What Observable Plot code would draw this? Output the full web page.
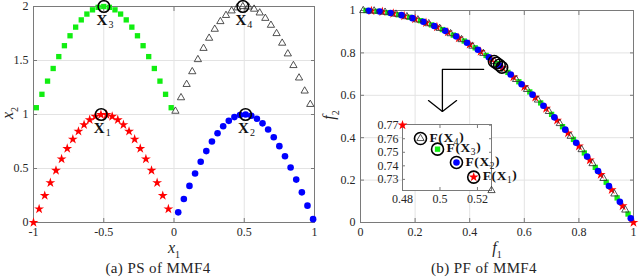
<!DOCTYPE html>
<html><head><meta charset="utf-8">
<script src="https://cdn.jsdelivr.net/npm/d3@7"></script>
<script src="https://cdn.jsdelivr.net/npm/@observablehq/plot@0.6"></script>
<style>
body{margin:0;background:#fff;}
#wrap{position:relative;width:640px;height:278px;overflow:hidden;font-family:"Liberation Serif",serif;color:#262626;}
.cap{position:absolute;font-size:15px;letter-spacing:0.4px;white-space:nowrap;}
.alab{position:absolute;font-size:16px;font-style:italic;white-space:nowrap;line-height:1;}
.alab sub{font-style:normal;font-size:10px;}
</style></head>
<body><div id="wrap"></div>
<script>
// ---------- (a) PS of MMF4 : decision space ----------
const starX1 = [-1,-0.96,-0.92,-0.88,-0.84,-0.80,-0.76,-0.72,-0.68,-0.64,-0.60,-0.56,-0.52,-0.48,-0.44,-0.40,-0.36,-0.32,-0.28,-0.24,-0.20,-0.16,-0.12,-0.08,-0.04];
const starX2 = [0,0.125,0.249,0.368,0.482,0.588,0.685,0.771,0.844,0.905,0.951,0.982,0.998,0.998,0.982,0.951,0.905,0.844,0.771,0.685,0.588,0.482,0.368,0.249,0.125];
const squareX1 = [-0.98,-0.94,-0.90,-0.86,-0.82,-0.78,-0.74,-0.70,-0.66,-0.62,-0.58,-0.54,-0.50,-0.46,-0.42,-0.38,-0.34,-0.30,-0.26,-0.22,-0.18,-0.14,-0.10,-0.06,-0.02];
const squareX2 = [1.063,1.187,1.309,1.426,1.536,1.637,1.729,1.809,1.876,1.930,1.969,1.992,2.000,1.992,1.969,1.930,1.876,1.809,1.729,1.637,1.536,1.426,1.309,1.187,1.063];
const circleX1 = [0.03,0.07,0.11,0.15,0.19,0.23,0.27,0.31,0.35,0.39,0.43,0.47,0.51,0.55,0.59,0.63,0.67,0.71,0.75,0.79,0.83,0.87,0.91,0.95,0.99];
const circleX2 = [0.094,0.218,0.339,0.454,0.562,0.661,0.750,0.827,0.891,0.941,0.976,0.996,1.000,0.988,0.960,0.918,0.861,0.790,0.707,0.613,0.509,0.397,0.279,0.156,0.031];
const triX1 = [0.01,0.05,0.09,0.13,0.17,0.21,0.25,0.29,0.33,0.37,0.41,0.45,0.49,0.53,0.57,0.61,0.65,0.69,0.73,0.77,0.81,0.85,0.89,0.93,0.97];
const triX2 = [1.031,1.156,1.279,1.397,1.509,1.613,1.707,1.790,1.861,1.918,1.960,1.988,2.000,1.996,1.976,1.941,1.891,1.827,1.750,1.661,1.562,1.454,1.339,1.218,1.094];
const solX1 = [-0.518, 0.509, -0.499, 0.490];
const solX2 = [1.0, 1.0, 2.0, 2.0];
const solIdx = ["1", "2", "3", "4"];
const ticksX1 = [-1, -0.5, 0, 0.5, 1];
const ticksX2 = [0, 0.5, 1, 1.5, 2];

// ---------- (b) PF of MMF4 : objective space ----------
const starF1 = [1,0.96,0.92,0.88,0.84,0.80,0.76,0.72,0.68,0.64,0.60,0.56,0.52,0.48,0.44,0.40,0.36,0.32,0.28,0.24,0.20,0.16,0.12,0.08,0.04];
const starF2 = [0,0.078,0.154,0.226,0.294,0.360,0.422,0.482,0.538,0.590,0.640,0.686,0.730,0.770,0.806,0.840,0.870,0.898,0.922,0.942,0.960,0.974,0.986,0.994,0.998];
const squareF1 = [0.98,0.94,0.90,0.86,0.82,0.78,0.74,0.70,0.66,0.62,0.58,0.54,0.50,0.46,0.42,0.38,0.34,0.30,0.26,0.22,0.18,0.14,0.10,0.06,0.02];
const squareF2 = [0.040,0.116,0.190,0.260,0.328,0.392,0.452,0.510,0.564,0.616,0.664,0.708,0.750,0.788,0.824,0.856,0.884,0.910,0.932,0.952,0.968,0.980,0.990,0.996,1.000];
const circleF1 = [0.03,0.07,0.11,0.15,0.19,0.23,0.27,0.31,0.35,0.39,0.43,0.47,0.51,0.55,0.59,0.63,0.67,0.71,0.75,0.79,0.83,0.87,0.91,0.95,0.99];
const circleF2 = [0.999,0.995,0.988,0.978,0.964,0.947,0.927,0.904,0.878,0.848,0.815,0.779,0.740,0.698,0.652,0.603,0.551,0.496,0.438,0.376,0.311,0.243,0.172,0.098,0.020];
const triF1 = [0.01,0.05,0.09,0.13,0.17,0.21,0.25,0.29,0.33,0.37,0.41,0.45,0.49,0.53,0.57,0.61,0.65,0.69,0.73,0.77,0.81,0.85,0.89,0.93,0.97];
const triF2 = [1.000,0.998,0.992,0.983,0.971,0.956,0.938,0.916,0.891,0.863,0.832,0.798,0.760,0.719,0.675,0.628,0.578,0.524,0.467,0.407,0.344,0.278,0.208,0.135,0.059];
const solF1 = [0.518, 0.5088, 0.4987, 0.4896];
const solF2 = [0.7317, 0.7425, 0.7523, 0.7602];
const solLabel = ["F(X1)", "F(X2)", "F(X3)", "F(X4)"];
const ticksF = [0, 0.2, 0.4, 0.6, 0.8, 1];
// arrow annotation (in f1/f2 units)
const arrowShaftF1 = [0.451, 0.300, 0.300];
const arrowShaftF2 = [0.722, 0.722, 0.524];
const arrowHeadF1 = [0.249, 0.300, 0.352];
const arrowHeadF2 = [0.575, 0.524, 0.575];
// inset (zoom on the four solutions)
const insetDomF1 = [0.48, 0.5275];
const insetDomF2 = [0.7218, 0.7705];
const insetTicksF1 = [0.48, 0.5, 0.52];
const insetTicksF2 = [0.73, 0.74, 0.75, 0.76, 0.77];
const insetEdgeStar = {f1: 0.48, f2: 0.770};
const insetEdgeTri = {f1: 0.5275, f2: 0.7218};

// ---------- styles ----------
const RED = "#ff0000", GREEN = "#11ee11", BLUE = "#0000ff", TRI = "#333333";
const FRAME = "#7a7a7a", GRID = "#e3e3e3";
const fmt = d => String(d);
const pts = a => ({length: a.length});
const STAR = {symbol: "star", r: 3.1, fill: RED, stroke: null};
const SQUARE = {symbol: "square", r: 3.0, fill: GREEN, stroke: null};
const CIRC = {symbol: "circle", r: 3.3, fill: BLUE, stroke: null};
const TRIS = {symbol: "triangle", r: 2.7, fill: "none", stroke: TRI, strokeWidth: 0.85};

function seriesMarks(ax, ay, bx, by, cx, cy, dx, dy) {
  return [
    Plot.dot(pts(ax), {x: ax, y: ay, ...STAR}),
    Plot.dot(pts(bx), {x: bx, y: by, ...SQUARE}),
    Plot.dot(pts(cx), {x: cx, y: cy, ...CIRC}),
    Plot.dot(pts(dx), {x: dx, y: dy, ...TRIS})
  ];
}
function axesMarks(tx, ty, opts = {}) {
  const pad = opts.pad ?? 9, ts = opts.ts ?? -4;
  return [
    Plot.axisX(tx, {anchor: "bottom", tickSize: ts, tickPadding: pad, tickFormat: fmt, label: null, stroke: FRAME, fill: "#262626"}),
    Plot.axisX(tx, {anchor: "top", tickSize: ts, tickFormat: () => "", label: null, stroke: FRAME}),
    Plot.axisY(ty, {anchor: "left", tickSize: ts, tickPadding: pad, tickFormat: fmt, label: null, stroke: FRAME, fill: "#262626"}),
    Plot.axisY(ty, {anchor: "right", tickSize: ts, tickFormat: () => "", label: null, stroke: FRAME})
  ];
}
const baseStyle = {fontFamily: "'Liberation Serif', serif", fontSize: "12px", color: "#262626", overflow: "visible", background: "transparent"};

// ---------- panel (a) ----------
const plotA = Plot.plot({
  width: 320, height: 240,
  marginLeft: 33, marginRight: 6, marginTop: 6, marginBottom: 18,
  x: {domain: [-1, 1]}, y: {domain: [0, 2]},
  style: baseStyle,
  marks: [
    Plot.gridX(ticksX1, {stroke: GRID, strokeOpacity: 1}),
    Plot.gridY(ticksX2, {stroke: GRID, strokeOpacity: 1}),
    ...axesMarks(ticksX1, ticksX2),
    Plot.frame({stroke: FRAME}),
    ...seriesMarks(starX1, starX2, squareX1, squareX2, circleX1, circleX2, triX1, triX2),
    Plot.dot(pts(solX1), {x: solX1, y: solX2, r: 5.8, stroke: "black", strokeWidth: 1.5, fill: "none"}),
    Plot.text(pts(solX1), {x: solX1, y: solX2, text: () => "X", dy: 14, dx: -2, fontWeight: "bold", fontSize: 15, fill: "#111"}),
    Plot.text(pts(solX1), {x: solX1, y: solX2, text: solIdx, dy: 18, dx: 7, fontSize: 10, fill: "#111"})
  ]
});

// ---------- panel (b) ----------
const plotB = Plot.plot({
  width: 320, height: 240,
  marginLeft: 40, marginRight: 7, marginTop: 10, marginBottom: 18,
  x: {domain: [0, 1]}, y: {domain: [0, 1]},
  style: baseStyle,
  marks: [
    Plot.gridX(ticksF, {stroke: GRID, strokeOpacity: 1}),
    Plot.gridY(ticksF, {stroke: GRID, strokeOpacity: 1}),
    ...axesMarks(ticksF, ticksF),
    Plot.frame({stroke: FRAME}),
    ...seriesMarks(starF1, starF2, squareF1, squareF2, circleF1, circleF2, triF1, triF2),
    Plot.dot(pts(solF1), {x: solF1, y: solF2, r: 5.8, stroke: "black", strokeWidth: 1.5, fill: "none"}),
    Plot.line(pts(arrowShaftF1), {x: arrowShaftF1, y: arrowShaftF2, stroke: "black", strokeWidth: 1.3}),
    Plot.line(pts(arrowHeadF1), {x: arrowHeadF1, y: arrowHeadF2, stroke: "black", strokeWidth: 1.3})
  ]
});

// ---------- inset ----------
const one = i => ({x: [solF1[i]], y: [solF2[i]]});
const plotC = Plot.plot({
  width: 165, height: 92,
  marginLeft: 34, marginRight: 42, marginTop: 8, marginBottom: 18,
  x: {domain: insetDomF1}, y: {domain: insetDomF2},
  style: baseStyle,
  marks: [
    Plot.frame({fill: "white", stroke: null}),
    ...axesMarks(insetTicksF1, insetTicksF2, {ts: -3, pad: 7}),
    Plot.frame({stroke: FRAME}),
    Plot.dot([insetEdgeStar], {x: "f1", y: "f2", ...STAR}),
    Plot.dot([insetEdgeTri], {x: "f1", y: "f2", ...TRIS}),
    Plot.dot(pts(solF1), {x: solF1, y: solF2, r: 6, stroke: "black", strokeWidth: 1.6, fill: "white"}),
    Plot.dot([0], {...one(0), ...STAR}),
    Plot.dot([0], {...one(1), ...CIRC}),
    Plot.dot([0], {...one(2), ...SQUARE}),
    Plot.dot([0], {...one(3), ...TRIS}),
    Plot.text(pts(solF1), {x: solF1, y: solF2, text: solLabel, dx: 9, dy: -1, textAnchor: "start", fontWeight: "bold", fontSize: 13.5, fill: "#111", className: "flabel"})
  ]
});

// turn the digit after X into a real subscript
d3.select(plotC).selectAll(".flabel text").each(function() {
  const m = this.textContent.match(/^F\(X(\d)\)$/);
  if (!m) return;
  const t = d3.select(this).attr("letter-spacing", "0.6px"); t.text(null);
  t.append("tspan").text("F(X");
  t.append("tspan").attr("dy", "0.3em").attr("font-size", "9.5px").attr("font-weight", "normal").text(m[1]);
  t.append("tspan").attr("dy", "-0.3em").text(")");
});

const wrap = document.getElementById("wrap");
function place(el, left, top) { el.style.position = "absolute"; el.style.left = left + "px"; el.style.top = top + "px"; wrap.appendChild(el); }
place(plotA, 0, 0);
place(plotB, 320, 0);
place(plotC, 368, 116);

function html(cls, inner, x, y, rotate) {
  const d = document.createElement("div");
  d.className = cls; d.innerHTML = inner;
  d.style.left = x + "px"; d.style.top = y + "px";
  d.style.transform = "translate(-50%,-50%)" + (rotate ? " rotate(-90deg)" : "");
  wrap.appendChild(d);
}
html("alab", "x<sub>1</sub>", 174, 250);
html("alab", "x<sub>2</sub>", 10, 113, true);
html("alab", "f<sub>1</sub>", 497, 250);
html("alab", "f<sub>2</sub>", 331, 115, true);
html("cap", "(a) PS of MMF4", 158, 268);
html("cap", "(b) PF of MMF4", 484, 268);
</script>
</body></html>
